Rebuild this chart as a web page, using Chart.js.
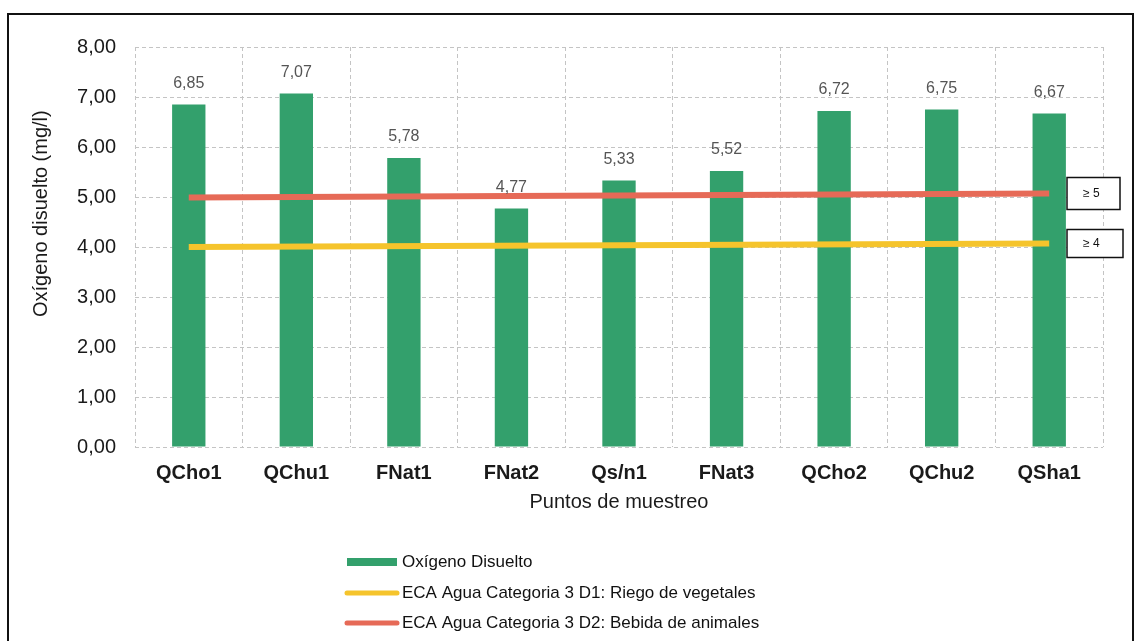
<!DOCTYPE html>
<html><head><meta charset="utf-8">
<script src="https://cdn.jsdelivr.net/npm/chart.js@4/dist/chart.umd.min.js"></script>
<style>html,body{margin:0;padding:0;background:#fff}#wrap{position:relative;width:1136px;height:641px}</style>
</head><body><div id="wrap"><canvas id="c" width="1136" height="641"></canvas></div>
<script>
const categories = ['QCho1','QChu1','FNat1','FNat2','Qs/n1','FNat3','QCho2','QChu2','QSha1'];
const oxygenValues = [6.85, 7.07, 5.78, 4.77, 5.33, 5.52, 6.72, 6.75, 6.67];
const ecaD1Values = [4.00, null, null, null, null, null, null, null, 4.07];
const ecaD2Values = [4.99, null, null, null, null, null, null, null, 5.07];
const thresholdLabels = ['≥ 4', '≥ 5'];
const seriesNames = ['Oxígeno Disuelto', 'ECA Agua Categoria 3 D1: Riego de vegetales', 'ECA Agua Categoria 3 D2: Bebida de animales'];
const yAxisTitle = 'Oxígeno disuelto (mg/l)';
const xAxisTitle = 'Puntos de muestreo';

const FONT = "'Liberation Sans', Arial, sans-serif";
const GREEN = '#33a06c', YELLOW = '#f5c42c', RED = '#e66a57';
const fmt = v => v.toFixed(2).replace('.', ',');

const bgPlugin = {
  id: 'bg',
  beforeDraw(chart) {
    const c = chart.ctx; c.save(); c.fillStyle = '#fff'; c.fillRect(0, 0, chart.width, chart.height); c.restore();
  },
  afterDraw(chart) {
    const c = chart.ctx; c.save();
    c.strokeStyle = '#111'; c.lineWidth = 2;
    c.strokeRect(8, 14, 1125, 640);
    c.restore();
  }
};

const labelPlugin = {
  id: 'valueLabels',
  afterDatasetsDraw(chart) {
    const c = chart.ctx; c.save();
    const meta = chart.getDatasetMeta(0);
    c.font = '16px ' + FONT; c.fillStyle = '#555'; c.textAlign = 'center'; c.textBaseline = 'bottom';
    meta.data.forEach((el, i) => { c.fillText(fmt(oxygenValues[i]), el.x, el.y - 13); });
    // threshold boxes at line ends
    const ys = chart.scales.y;
    const xEnd = 1067;
    [[ecaD1Values, thresholdLabels[0], 56, 28], [ecaD2Values, thresholdLabels[1], 53, 32]].forEach(([vals, txt, w, h]) => {
      const v = vals[vals.length - 1];
      const yc = ys.getPixelForValue(v);
      c.fillStyle = '#fff'; c.fillRect(xEnd, yc - h / 2, w, h);
      c.strokeStyle = '#111'; c.lineWidth = 1.5; c.strokeRect(xEnd, yc - h / 2, w, h);
      c.fillStyle = '#111'; c.font = '12px ' + FONT; c.textAlign = 'left'; c.textBaseline = 'middle';
      c.fillText(txt, xEnd + 16, yc);
    });
    c.restore();
  }
};

const legendPlugin = {
  id: 'customLegend',
  afterDraw(chart) {
    const c = chart.ctx; c.save();
    const rows = [562, 593, 623];
    chart.data.datasets.forEach((ds, i) => {
      const y = rows[i];
      if (ds.type === 'line') {
        c.strokeStyle = ds.borderColor; c.lineWidth = 5; c.lineCap = 'round';
        c.beginPath(); c.moveTo(347, y); c.lineTo(397, y); c.stroke();
      } else {
        c.fillStyle = ds.backgroundColor; c.fillRect(347, y - 4, 50, 8);
      }
      c.fillStyle = '#111'; c.font = '17px ' + FONT; c.textAlign = 'left'; c.textBaseline = 'middle';
      c.fillText(ds.label, 402, y);
    });
    c.restore();
  }
};

new Chart(document.getElementById('c'), {
  data: {
    labels: categories,
    datasets: [
      { type: 'bar', label: seriesNames[0], data: oxygenValues, backgroundColor: GREEN, barPercentage: 0.31, categoryPercentage: 1, order: 2 },
      { type: 'line', label: seriesNames[1], data: ecaD1Values, borderColor: YELLOW, borderWidth: 6, pointRadius: 0, spanGaps: true, order: 1 },
      { type: 'line', label: seriesNames[2], data: ecaD2Values, borderColor: RED, borderWidth: 6, pointRadius: 0, spanGaps: true, order: 0 }
    ]
  },
  options: {
    responsive: false, animation: false, devicePixelRatio: 1,
    layout: { padding: { left: 22, top: 47, right: 33, bottom: 124 } },
    plugins: { legend: { display: false }, tooltip: { enabled: false } },
    scales: {
      x: {
        offset: true,
        grid: { color: '#c4c4c4', lineWidth: 1, drawTicks: false, offset: true },
        border: { display: false, dash: [4, 3] },
        ticks: { font: { family: FONT, size: 20, weight: 'bold' }, color: '#1a1a1a', padding: 14 },
        title: { display: true, text: xAxisTitle, font: { family: FONT, size: 20 }, color: '#1a1a1a', padding: { top: 0, bottom: 3 } },
        afterFit(s) { s.height = 70; }
      },
      y: {
        min: 0, max: 8,
        grid: { color: '#c4c4c4', lineWidth: 1, drawTicks: false },
        border: { display: false, dash: [4, 3] },
        ticks: { stepSize: 1, font: { family: FONT, size: 20 }, color: '#1a1a1a', padding: 19, callback: v => fmt(v) },
        title: { display: true, text: '\u00A0'.repeat(12) + yAxisTitle, font: { family: FONT, size: 20 }, color: '#1a1a1a', padding: { top: 7, bottom: 0 } },
        afterFit(s) { s.width = 113; }
      }
    }
  },
  plugins: [bgPlugin, labelPlugin, legendPlugin]
});
</script></body></html>
